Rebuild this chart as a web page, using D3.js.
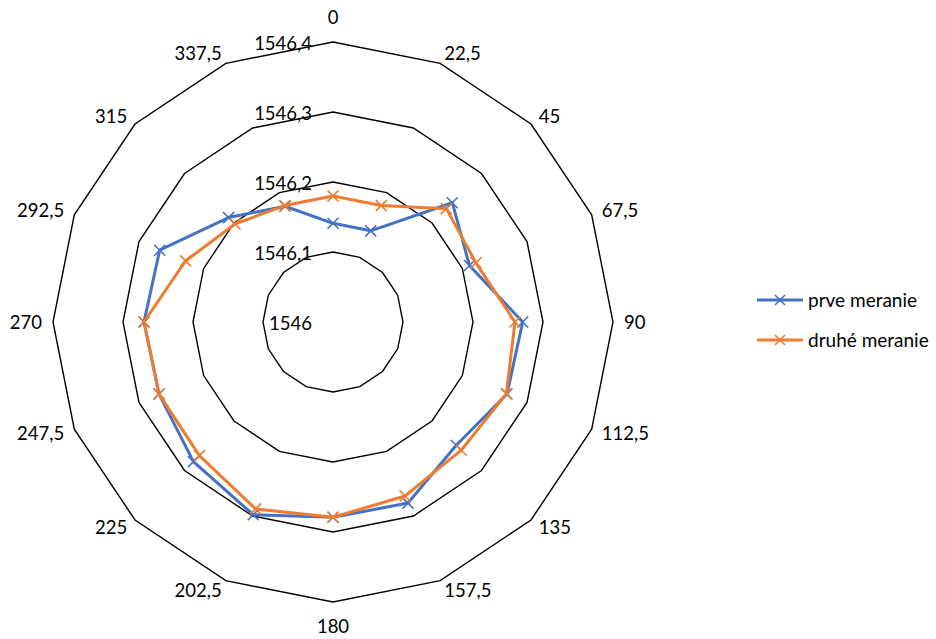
<!DOCTYPE html>
<html>
<head>
<meta charset="utf-8">
<script src="https://cdn.jsdelivr.net/npm/d3@7"></script>
<style>
  html, body { margin: 0; padding: 0; background: #fff; }
  svg { display: block; font-family: Lato, "Open Sans", sans-serif; }
</style>
</head>
<body>
<svg id="chart" width="936" height="639"></svg>
<script>
// Measurement angles (degrees) around the circle
const categories = ["0", "22,5", "45", "67,5", "90", "112,5", "135", "157,5",
                    "180", "202,5", "225", "247,5", "270", "292,5", "315", "337,5"];

// First measurement
const prveMeranie = [1546.141, 1546.141, 1546.241, 1546.211, 1546.271, 1546.269, 1546.249, 1546.280,
                     1546.279, 1546.298, 1546.282, 1546.269, 1546.270, 1546.268, 1546.211, 1546.179];

// Second measurement
const druheMeranie = [1546.180, 1546.180, 1546.229, 1546.221, 1546.260, 1546.268, 1546.259, 1546.269,
                      1546.279, 1546.289, 1546.270, 1546.269, 1546.270, 1546.228, 1546.198, 1546.180];

// Radial axis ticks and their labels
const tickValues = [1546, 1546.1, 1546.2, 1546.3, 1546.4];
const tickLabels = ["1546", "1546,1", "1546,2", "1546,3", "1546,4"];

const seriesNames = ["prve meranie", "druhé meranie"];
const seriesColors = ["#4472C4", "#ED7D31"];

const svg = d3.select("#chart");
const cx = 333, cy = 322, R = 280;
const fontSize = 18.5;

const r = d3.scaleLinear().domain([tickValues[0], tickValues[tickValues.length - 1]]).range([0, R]);
const angle = d3.scalePoint().domain(categories).range([0, 2 * Math.PI * (categories.length - 1) / categories.length]);

const g = svg.append("g").attr("transform", `translate(${cx},${cy})`);

const radial = d3.lineRadial()
  .angle(d => angle(d.cat))
  .radius(d => r(d.value))
  .curve(d3.curveLinearClosed);

// Grid polygons, one per tick above the centre
g.append("g").selectAll("path")
  .data(tickValues.slice(1))
  .join("path")
  .attr("d", v => radial(categories.map(c => ({ cat: c, value: v }))))
  .attr("fill", "none")
  .attr("stroke", "#000")
  .attr("stroke-width", 1.4);

// Radial value labels, right-aligned just left of the vertical axis
g.append("g").selectAll("text")
  .data(tickValues)
  .join("text")
  .attr("x", -21)
  .attr("y", v => -r(v) + 8)
  .attr("text-anchor", "end")
  .attr("font-size", fontSize)
  .attr("fill", "#000")
  .text((v, i) => tickLabels[i]);

// Category labels around the outside
const labelR = R + 11;
g.append("g").selectAll("text")
  .data(categories)
  .join("text")
  .each(function (c) {
    const a = angle(c);
    const s = Math.sin(a), co = Math.cos(a);
    const x = labelR * s, y = -labelR * co;
    const t = d3.select(this)
      .attr("font-size", fontSize)
      .attr("fill", "#000")
      .text(c);
    if (Math.abs(s) < 1e-6) {
      t.attr("text-anchor", "middle").attr("x", x)
       .attr("y", co > 0 ? y - 7 : y + 7 + 0.717 * fontSize);
    } else {
      t.attr("text-anchor", s > 0 ? "start" : "end").attr("x", x)
       .attr("y", y + 0.358 * fontSize);
    }
  });

// X-shaped marker path
function xMarker(size) {
  return `M${-size},${-size}L${size},${size}M${-size},${size}L${size},${-size}`;
}

const series = [prveMeranie, druheMeranie];
series.forEach((vals, i) => {
  const pts = categories.map((c, k) => ({ cat: c, value: vals[k] }));
  const sg = g.append("g");
  sg.append("path")
    .attr("d", radial(pts))
    .attr("fill", "none")
    .attr("stroke", seriesColors[i])
    .attr("stroke-width", 3)
    .attr("stroke-linejoin", "round");
  sg.selectAll("path.m")
    .data(pts)
    .join("path")
    .attr("class", "m")
    .attr("transform", d => {
      const a = angle(d.cat), rr = r(d.value);
      return `translate(${rr * Math.sin(a)},${-rr * Math.cos(a)})`;
    })
    .attr("d", xMarker(5.5))
    .attr("stroke", seriesColors[i])
    .attr("stroke-width", 1.6)
    .attr("fill", "none");
});

// Legend
const legend = svg.append("g").attr("transform", "translate(757,300)");
seriesNames.forEach((name, i) => {
  const row = legend.append("g").attr("transform", `translate(0,${i * 40})`);
  row.append("line")
    .attr("x1", 0).attr("x2", 46).attr("y1", 0).attr("y2", 0)
    .attr("stroke", seriesColors[i]).attr("stroke-width", 3);
  row.append("path")
    .attr("transform", "translate(23,0)")
    .attr("d", xMarker(5))
    .attr("stroke", seriesColors[i]).attr("stroke-width", 1.6).attr("fill", "none");
  row.append("text")
    .attr("x", 51).attr("y", 6.5)
    .attr("font-size", 19)
    .attr("fill", "#000")
    .text(name);
});
</script>
</body>
</html>
